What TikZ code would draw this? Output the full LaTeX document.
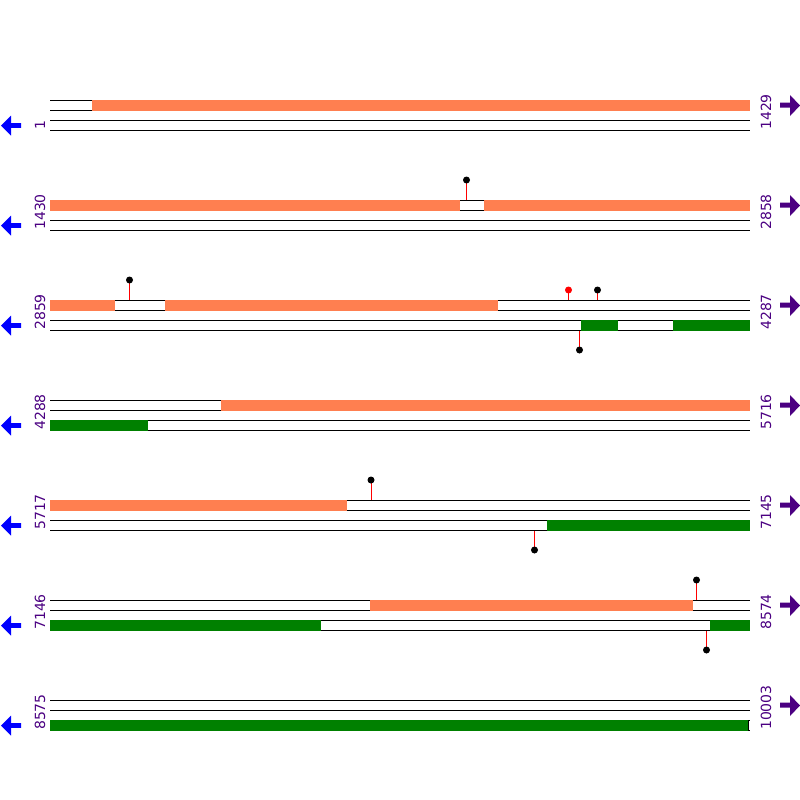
\documentclass[tikz,border=0pt]{standalone}
\usepackage{fontspec}
\setmainfont{DejaVu Sans}
\usetikzlibrary{calc}
\definecolor{coral}{RGB}{255,127,80}
\definecolor{cdsgreen}{RGB}{0,128,0}
\definecolor{indigo}{RGB}{75,0,130}
\tikzset{
  strand/.style={black, line width=1pt},
  fwdbox/.style={fill=coral},
  revbox/.style={fill=cdsgreen},
  stem/.style={red, line width=1pt},
  poslabel/.style={text=indigo, rotate=90, anchor=west, inner sep=0pt,
    font=\fontsize{14}{14}\selectfont},
}

\begin{document}
\begin{tikzpicture}[x=1pt,y=-1pt]
\useasboundingbox[fill=white] (0,0) rectangle (800,800);

% strands, positions and direction arrows
\foreach \r/\first/\last in {1/1/1429, 2/1430/2858, 3/2859/4287, 4/4288/5716,
                             5/5717/7145, 6/7146/8574, 7/8575/10003}{
  \pgfmathsetmacro{\y}{100*\r}
  \draw[strand] (50,\y+0.5) -- (750,\y+0.5);
  \draw[strand] (50,\y+10.5) -- (750,\y+10.5);
  \draw[strand] (50,\y+20.5) -- (750,\y+20.5);
  \draw[strand] (50,\y+30.5) -- (750,\y+30.5);
  \node[poslabel] (first\r) at (40,\y+30) {\first};
  \node[poslabel] (last\r) at (766,\y+30) {\last};
  \fill[blue] (1,\y+25.5) -- (11,\y+15.5) -- (11,\y+23.2) -- (21,\y+23.2)
    -- (21,\y+27.8) -- (11,\y+27.8) -- (11,\y+35.5) -- cycle;
  \fill[indigo] (800,\y+5.5) -- (790,\y-5) -- (790,\y+2.5) -- (780,\y+2.5)
    -- (780,\y+7.5) -- (790,\y+7.5) -- (790,\y+16) -- cycle;
}

% row 1
\fill[fwdbox] (92,100) rectangle (750,111);

% row 2
\fill[fwdbox] (50,200) rectangle (460,211);
\fill[fwdbox] (484,200) rectangle (750,211);
\draw[stem] (466.5,200) -- (466.5,180);
\fill (466.5,180) circle (3.5);

% row 3
\fill[fwdbox] (50,300) rectangle (115,311);
\fill[fwdbox] (165,300) rectangle (498,311);
\fill[revbox] (581,320) rectangle (618,331);
\fill[revbox] (673,320) rectangle (750,331);
\draw[stem] (129.5,300) -- (129.5,280);
\fill (129.5,280) circle (3.5);
\draw[stem] (568.5,300) -- (568.5,290);
\fill[red] (568.5,290) circle (3.5);
\draw[stem] (597.5,300) -- (597.5,290);
\fill (597.5,290) circle (3.5);
\draw[stem] (579.5,331) -- (579.5,350);
\fill (579.5,350) circle (3.5);

% row 4
\fill[fwdbox] (221,400) rectangle (750,411);
\fill[revbox] (50,420) rectangle (148,431);

% row 5
\fill[fwdbox] (50,500) rectangle (347,511);
\fill[revbox] (547,520) rectangle (750,531);
\draw[stem] (371,500) -- (371,480);
\fill (371,480) circle (3.5);
\draw[stem] (534.5,531) -- (534.5,550);
\fill (534.5,550) circle (3.5);

% row 6
\fill[fwdbox] (370,600) rectangle (693,611);
\fill[revbox] (50,620) rectangle (321,631);
\fill[revbox] (710,620) rectangle (750,631);
\draw[stem] (696.5,600) -- (696.5,580);
\fill (696.5,580) circle (3.5);
\draw[stem] (706.5,631) -- (706.5,650);
\fill (706.5,650) circle (3.5);

% row 7
\fill[revbox] (50,720) rectangle (747.5,731);
\draw[strand] (748.5,720) -- (748.5,731);
\end{tikzpicture}
\end{document}
